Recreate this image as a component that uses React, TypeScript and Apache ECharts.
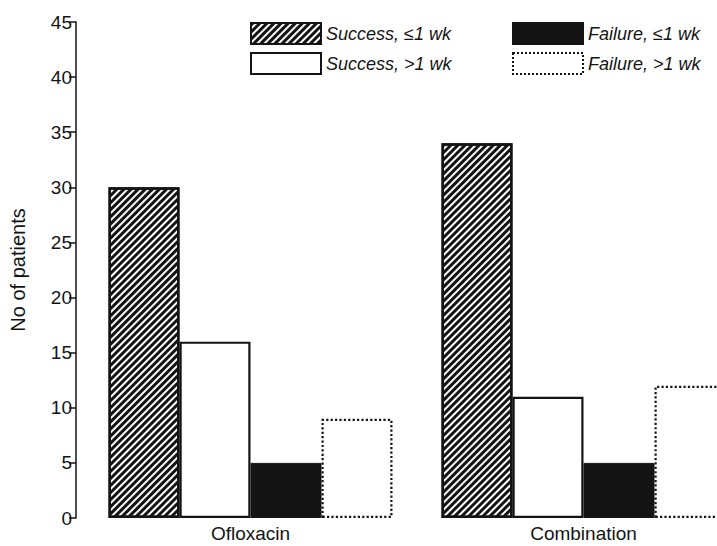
import React, { useEffect, useRef } from "react";
import * as echarts from "echarts";

const categories = ["Ofloxacin", "Combination"];
const seriesNames = ["Success, ≤1 wk", "Success, >1 wk", "Failure, ≤1 wk", "Failure, >1 wk"];
const successShort = [30, 34];
const successLong = [16, 11];
const failureShort = [5, 5];
const failureLong = [9, 12];
const yMax = 45;
const yInterval = 5;
const yAxisTitle = "No of patients";

const FONT = "'Liberation Sans', Arial, Helvetica, sans-serif";
const INK = "#141414";

export default function App() {
  const ref = useRef<HTMLDivElement>(null);
  useEffect(() => {
    if (!ref.current) return;
    const chart = echarts.init(ref.current, undefined, { renderer: "svg" });
    const legendText = { fontFamily: FONT, fontStyle: "italic" as const, fontSize: 18, color: INK };
    const legendCommon = {
      top: 22, orient: "vertical", itemWidth: 70, itemHeight: 21, itemGap: 7,
      textStyle: legendText, selectedMode: false, icon: "rect", padding: 0,
    };
    chart.setOption({
      animation: false,
      backgroundColor: "#fff",
      grid: { left: 84, width: 666, top: 22, bottom: 28, containLabel: false, outerBoundsMode: "none" },
      legend: [
        { ...legendCommon, left: 250, data: [seriesNames[0], seriesNames[1]] },
        {
          ...legendCommon, left: 512,
          data: [
            seriesNames[2],
            { name: seriesNames[3], itemStyle: { borderType: "dotted", borderWidth: 2, borderColor: INK } },
          ],
        },
      ],
      xAxis: {
        type: "category",
        data: categories,
        axisLine: { show: false },
        axisTick: { show: false },
        axisLabel: { fontFamily: FONT, fontSize: 19, color: INK, margin: 6 },
      },
      yAxis: {
        type: "value",
        min: 0,
        max: yMax,
        interval: yInterval,
        offset: 8,
        name: yAxisTitle,
        nameLocation: "middle",
        nameRotate: 90,
        nameGap: 48,
        nameTextStyle: { fontFamily: FONT, fontSize: 20, color: INK },
        axisLine: { show: true, lineStyle: { color: INK, width: 1.5 } },
        axisTick: { show: true, length: 7, lineStyle: { color: INK, width: 1.5 } },
        axisLabel: { fontFamily: FONT, fontSize: 19, color: INK, margin: 4 },
        splitLine: { show: false },
      },
      series: [
        {
          name: seriesNames[0], type: "bar", data: successShort, barWidth: 71, barGap: "0%",
          itemStyle: {
            color: "#fff", borderColor: INK, borderWidth: 2.5,
            decal: {
              symbol: "rect", color: INK, backgroundColor: "#fff",
              dashArrayX: [1, 0], dashArrayY: [2.2, 1.3], rotation: -Math.PI / 4, symbolSize: 1,
            },
          },
        },
        {
          name: seriesNames[1], type: "bar", data: successLong, barWidth: 71, barGap: "0%",
          itemStyle: { color: "#fff", borderColor: INK, borderWidth: 2.2 },
        },
        {
          name: seriesNames[2], type: "bar", data: failureShort, barWidth: 71, barGap: "0%",
          itemStyle: { color: INK, borderColor: INK, borderWidth: 1 },
        },
        {
          name: seriesNames[3], type: "bar", data: failureLong, barWidth: 71, barGap: "0%",
          itemStyle: { color: "#fff", borderColor: INK, borderWidth: 2.2, borderType: "dotted" },
        },
      ],
    });
    return () => chart.dispose();
  }, []);
  return (
    <div
      ref={ref}
      style={{ position: "fixed", left: 0, top: 0, width: 717, height: 546, background: "#fff" }}
    />
  );
}
